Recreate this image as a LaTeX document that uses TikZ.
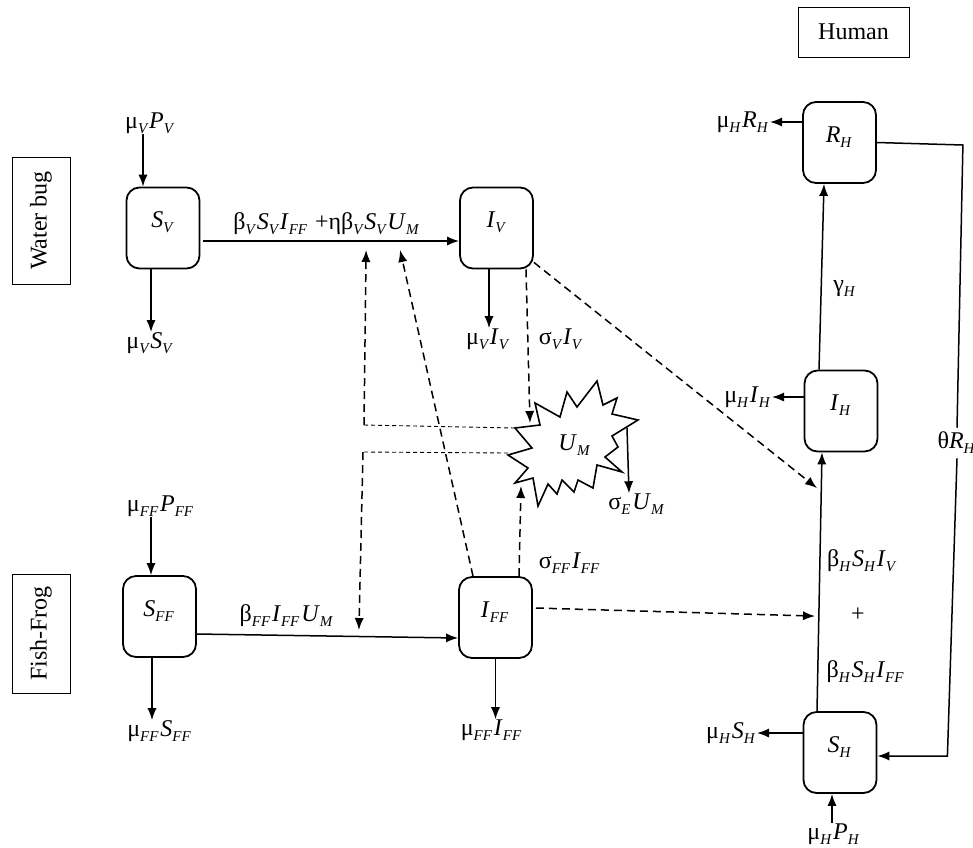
\documentclass[tikz,border=0pt]{standalone}
\usepackage{fontspec}
\setmainfont{Liberation Serif}
\usetikzlibrary{arrows.meta,calc}

\newcommand{\lowsub}[1]{\raisebox{-0.45ex}{\fontsize{7.5}{8}\selectfont\itshape #1}\kern0.08em}
\newcommand{\vsym}[2]{\textit{#1}\lowsub{#2}}

\begin{document}
\begin{tikzpicture}[
    x=0.5pt, y=-0.5pt,
    >={Latex[length=6pt,width=4.6pt]},
    font=\fontsize{12}{14}\selectfont,
    stock/.style={
		rectangle,
		rounded corners=6.5pt,
		draw=black,
		line width=0.9pt,
		minimum width=36.5pt,
		minimum height=40.5pt,
		text centered
	},
	group/.style={
		rectangle,
		draw=black,
		line width=0.5pt
	},
	rate/.style={
		inner sep=0pt
	},
	flow/.style={->, line width=0.75pt},
	infect/.style={->, line width=0.75pt, dash pattern=on 4pt off 2.5pt},
	link/.style={line width=0.45pt, dash pattern=on 2pt off 1.5pt}
  ]
  \useasboundingbox (0,0) rectangle (973,847);

    % We start by placing the species labels
  \node [group, rotate=90, minimum width=63.5pt, minimum height=29pt] (bug) at (41,220.5) {Water bug};
  \node [group, rotate=90, minimum width=59.5pt, minimum height=29pt] (frog) at (41,633.5) {Fish-Frog};
  \node [group, minimum width=55.5pt, minimum height=25pt] (human) at (853.5,32) {Human};

    % compartments
  \node [stock] (sv) at (163,228) {\raisebox{8pt}{\vsym{S}{V}}};
  \node [stock] (iv) at (496.5,228) {\raisebox{8pt}{\vsym{I}{V}}};
  \node [stock] (sff) at (159.5,616.5) {\raisebox{8pt}{\vsym{S}{FF}}};
  \node [stock] (iff) at (495.5,617.5) {\raisebox{8pt}{\vsym{I}{FF}}};
  \node [stock] (rh) at (839.5,142.5) {\raisebox{8pt}{\vsym{R}{H}}};
  \node [stock] (ih) at (841,411) {\raisebox{8pt}{\vsym{I}{H}}};
  \node [stock] (sh) at (840,752.5) {\raisebox{8pt}{\vsym{S}{H}}};

    % environment (burst drawn round it)
  \node [inner sep=0pt] (um) at (575,445) {\vsym{U}{M}};
  \begin{scope}[shift={(573,443)}]
    \draw [line width=0.8pt, line join=miter]
      (-38,-40) -- (-13,-26) -- (-6,-51) -- (4,-36) -- (24,-62) -- (30,-38) -- (44,-45) -- (39,-29)
      -- (65,-23) -- (39,-7) -- (45,4) -- (32,14) -- (49,29) -- (24,22) -- (20,45) -- (5,37)
      -- (1,49) -- (-11,37) -- (-16,51) -- (-25,41) -- (-35,63) -- (-40,35) -- (-58,40) -- (-45,25)
      -- (-65,12) -- (-41,5) -- (-58,-15) -- (-33,-18) -- cycle;
  \end{scope}

    % rates
  \node [rate] (lpv) at (150,123) {μ\lowsub{V}\vsym{P}{V}};
  \node [rate] (lsv) at (150,343) {μ\lowsub{V}\vsym{S}{V}};
  \node [rate] (lpff) at (161,506) {μ\lowsub{FF}\vsym{P}{FF}};
  \node [rate] (lsff) at (160,731) {μ\lowsub{FF}\vsym{S}{FF}};
  \node [rate] (liv) at (488,339) {μ\lowsub{V}\vsym{I}{V}};
  \node [rate] (lsiv) at (561,339) {σ\lowsub{V}\vsym{I}{V}};
  \node [rate] (liff) at (492,730) {μ\lowsub{FF}\vsym{I}{FF}};
  \node [rate] (lsiff) at (570,563) {σ\lowsub{FF}\vsym{I}{FF}};
  \node [rate] (lse) at (637,504) {σ\lowsub{E}\vsym{U}{M}};
  \node [rate] (inbug) at (327,224) {β\lowsub{V}\vsym{S}{V}\vsym{I}{FF}\ +ηβ\lowsub{V}\vsym{S}{V}\vsym{U}{M}};
  \node [rate] (infrog) at (287,616) {β\lowsub{FF}\vsym{I}{FF}\vsym{U}{M}};
  \node [rate, anchor=east] (lrh) at (770,122) {μ\lowsub{H}\vsym{R}{H}};
  \node [rate, anchor=east] (lih) at (772,397) {μ\lowsub{H}\vsym{I}{H}};
  \node [rate, anchor=east] (lsh) at (757,733) {μ\lowsub{H}\vsym{S}{H}};
  \node [rate] (lph) at (834,834) {μ\lowsub{H}\vsym{P}{H}};
  \node [rate] (lgam) at (845,289) {γ\lowsub{H}};
  \node [rate] (lb1) at (862,561) {β\lowsub{H}\vsym{S}{H}\vsym{I}{V}};
  \node [rate] (lplus) at (858,615) {+};
  \node [rate] (lb2) at (866,672) {β\lowsub{H}\vsym{S}{H}\vsym{I}{FF}};
  \node [rate, inner sep=2pt] (lth) at (957,443) {θ\vsym{R}{H}};

    % helper points
  \coordinate (c1) at ($(um.center)+(-211,-20)$);
  \coordinate (c2) at ($(um.center)+(-212,7)$);
  \coordinate (loopa) at ($(rh.east)+(86,2.5)$);
  \coordinate (loopb) at ($(sh.east)+(70,3.5)$);

    % water bug
  \draw [flow] ($(lpv.south)+(-7,0)$) -- ($(sv.north)+(-20,0)$);
  \draw [flow] ($(sv.south)+(-12,0)$) -- ($(lsv.north)+(1,0)$);
  \draw [flow] ($(sv.east)+(3,13)$) -- ($(iv.west)+(0,13)$);
  \draw [flow] ($(iv.south)+(-7.5,0)$) -- ($(liv.north)+(1,0)$);
  \draw [infect] ($(iv.south)+(29.5,0)$) -- ($(um.center)+(-45,-22)$);
  \draw [infect] ($(iv.south east)+(0,-7)$) -- ($(sh.north)+(-23,-223)$);

    % fish-frog
  \draw [flow] ($(lpff.south)+(-10,0)$) -- ($(sff.north)+(-8.5,0)$);
  \draw [flow] ($(sff.south)+(-7.5,0)$) -- ($(lsff.north)+(-8,0)$);
  \draw [flow] ($(sff.east)+(0,17.5)$) -- ($(iff.west)+(0,20.5)$);
  \draw [flow] (iff.south) -- ($(liff.north)+(3.5,0)$);
  \draw [infect] ($(iff.north)+(23.5,0)$) -- ($(um.center)+(-54,41)$);
  \draw [infect] ($(iff.north)+(-22.5,0)$) -- ($(iv.west)+(-59,22)$);
  \draw [infect] ($(iff.east)+(3,-9.5)$) -- ($(sh.north)+(-25,-95)$);

    % U_M
  \draw [link] ($(um.center)+(-60,-17)$) -- (c1);
  \draw [infect] (c1) -- ($(iv.west)+(-93,22)$);
  \draw [link] ($(um.center)+(-67,8)$) -- (c2);
  \draw [infect] (c2) -- ($(sff.east)+(162,13.5)$);
  \draw [flow] ($(um.center)+(52,-17)$) -- ($(lse.north)+(-8,0)$);

    % human
  \draw [flow] ($(sh.north)+(-23,0)$) -- ($(ih.south)+(-19,0)$);
  \draw [flow] ($(ih.north)+(-22,0)$) -- ($(rh.south)+(-15.5,0)$);
  \draw [flow] ($(rh.west)+(0,-20.5)$) -- (lrh.east);
  \draw [flow] ($(ih.west)+(0,-14)$) -- (lih.east);
  \draw [flow] ($(sh.west)+(0,-19.5)$) -- (lsh.east);
  \draw [flow] ($(lph.north)+(-2,0)$) -- ($(sh.south)+(-8,0)$);
  \draw [line width=0.75pt] (rh.east) -- (loopa) -- (lth.north);
  \draw [flow] (lth.south) -- (loopb) -- ($(sh.east)+(0,3.5)$);

\end{tikzpicture}
\end{document}
